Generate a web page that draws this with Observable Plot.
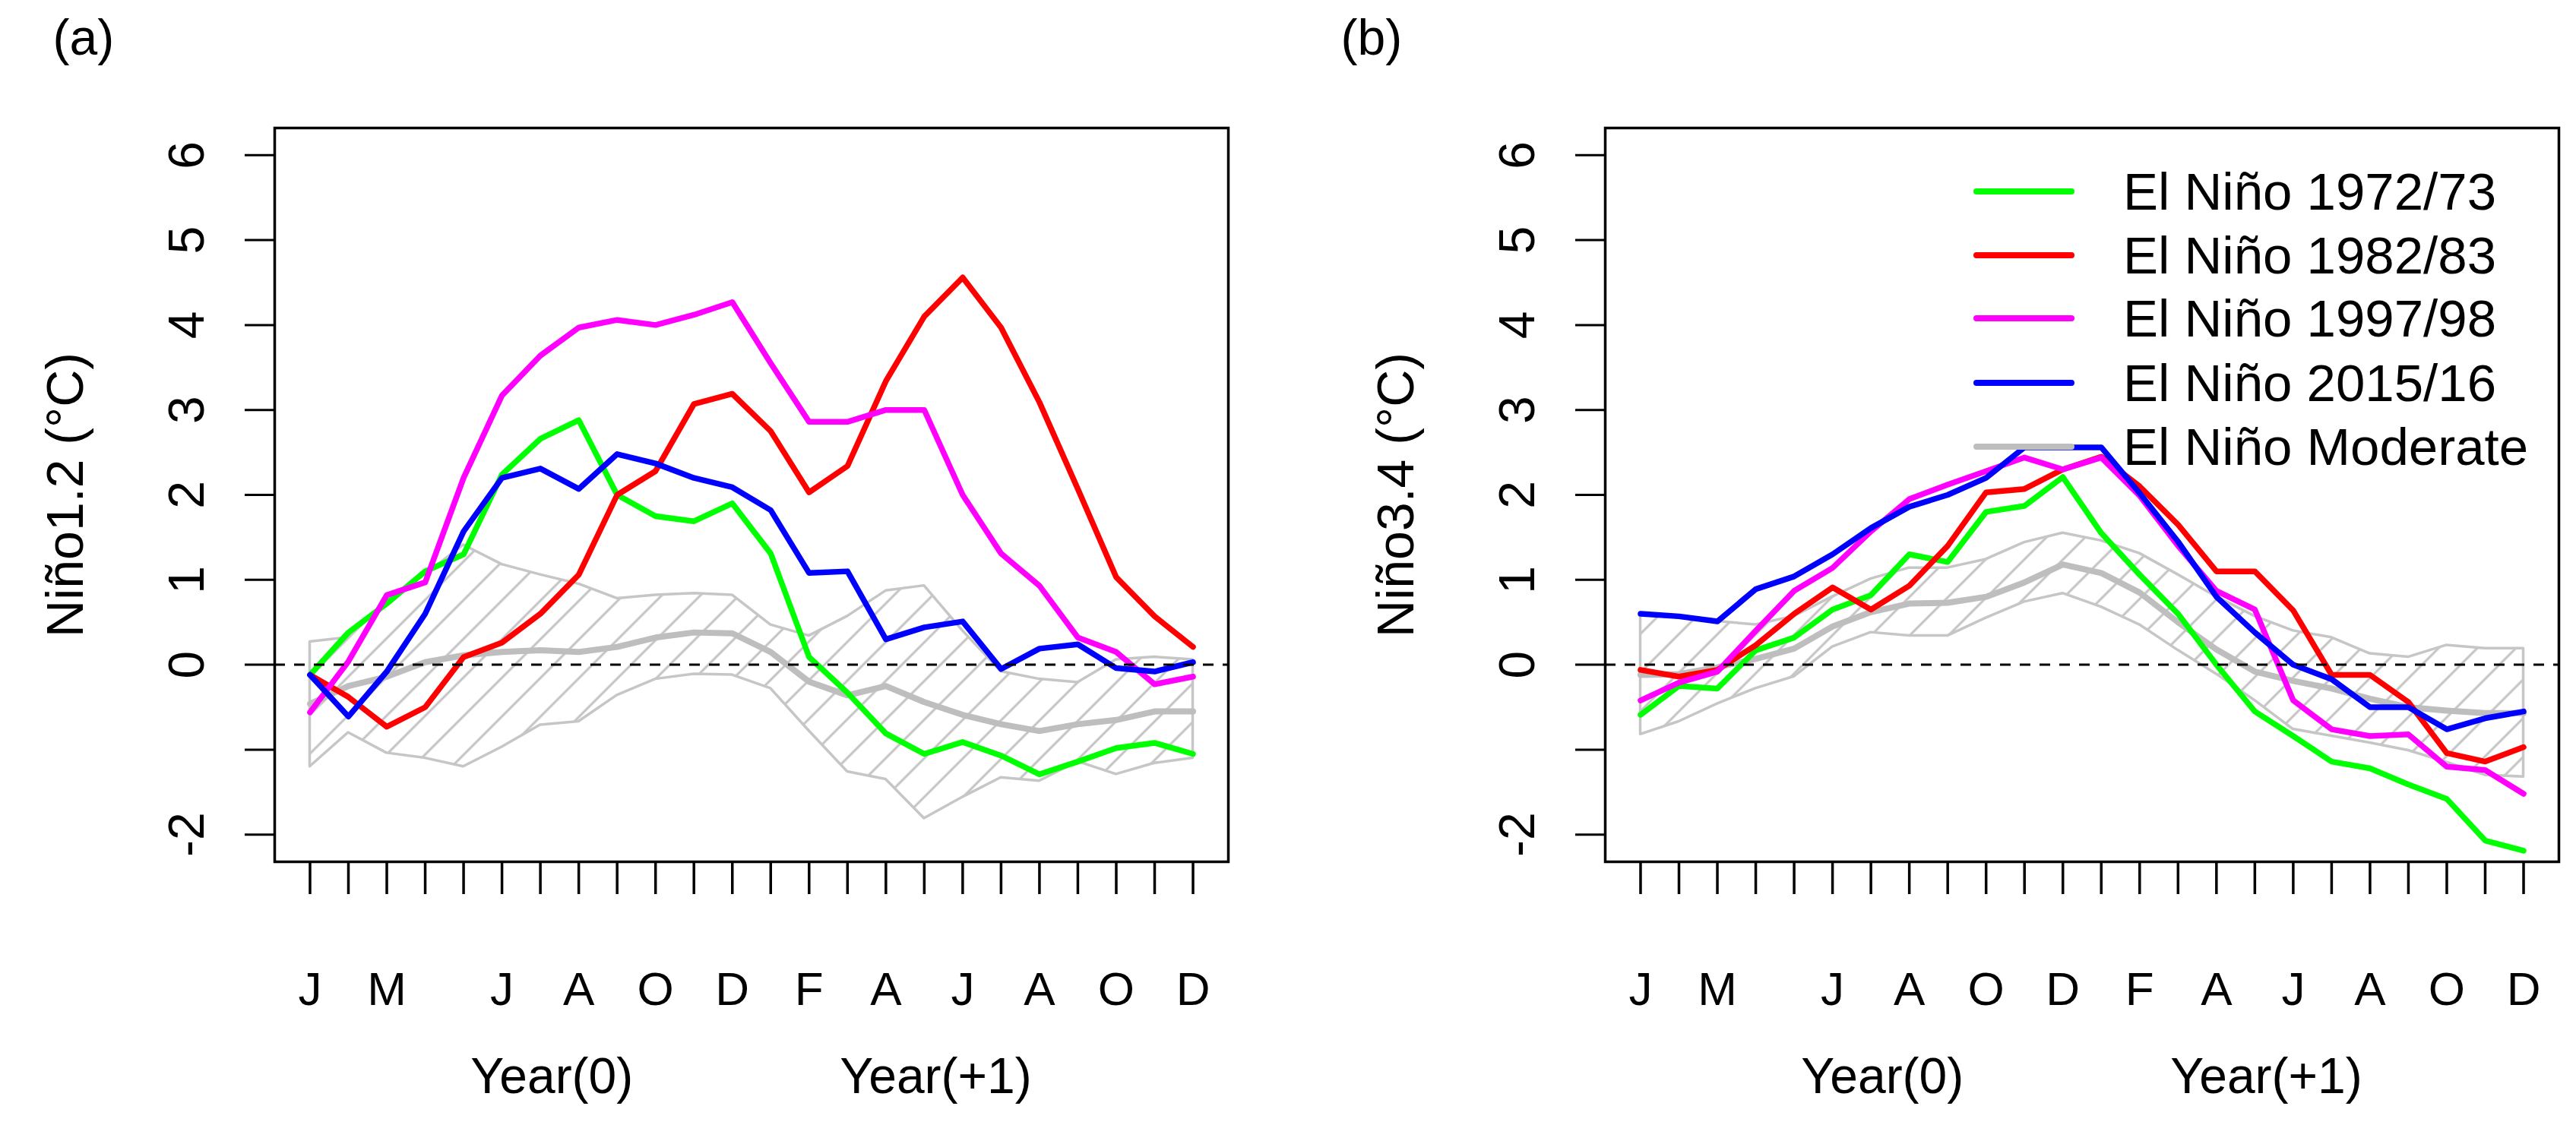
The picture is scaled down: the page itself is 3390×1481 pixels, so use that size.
<!DOCTYPE html>
<html><head><meta charset="utf-8">
<script src="https://cdn.jsdelivr.net/npm/d3@7"></script>
<script src="https://cdn.jsdelivr.net/npm/@observablehq/plot@0.6"></script>
<style>
body{margin:0;background:#fff;}
#wrap{position:relative;width:3390px;height:1481px;display:flex;font-family:"Liberation Sans",Arial,sans-serif;background:#fff;}
.leg-line{position:absolute;height:8px;width:133px;border-radius:4px;}
.leg-text{position:absolute;font-size:69px;line-height:1;white-space:nowrap;color:#000;}
</style></head><body><div id="wrap"></div>
<script>
// ---------- data ----------
const monthIndex = d3.range(1, 25);
const tickPos = [1, 3, 6, 8, 10, 12, 14, 16, 18, 20, 22, 24];
const tickLabels = ["J", "M", "J", "A", "O", "D", "F", "A", "J", "A", "O", "D"];
const yTicks = [-2, -1, 0, 1, 2, 3, 4, 5, 6];
const yTickLabels = ["-2", "", "0", "1", "2", "3", "4", "5", "6"];
const yearLabels = ["Year(0)", "Year(+1)"];
const yearPos = [7.3, 17.3];
const seriesNames = ["El Niño 1972/73", "El Niño 1982/83", "El Niño 1997/98", "El Niño 2015/16", "El Niño Moderate"];
const seriesColors = ["#00ff00", "#ff0000", "#ff00ff", "#0000ff", "#bebebe"];

// panel (a) Niño1.2
const a_1972 = [-0.12,0.38,0.72,1.10,1.30,2.24,2.66,2.88,2.00,1.75,1.69,1.90,1.31,0.09,-0.33,-0.81,-1.05,-0.91,-1.07,-1.29,-1.14,-0.98,-0.92,-1.05];
const a_1982 = [-0.12,-0.38,-0.73,-0.50,0.09,0.26,0.60,1.06,2.00,2.28,3.07,3.19,2.75,2.03,2.34,3.34,4.10,4.56,3.97,3.09,2.07,1.03,0.57,0.21];
const a_1997 = [-0.56,0.04,0.82,0.97,2.20,3.17,3.64,3.97,4.06,4.00,4.12,4.27,3.55,2.86,2.86,3.00,3.00,2.00,1.31,0.93,0.32,0.15,-0.23,-0.14];
const a_2015 = [-0.12,-0.61,-0.08,0.60,1.57,2.20,2.31,2.07,2.48,2.37,2.20,2.09,1.82,1.08,1.10,0.30,0.44,0.51,-0.05,0.19,0.24,-0.04,-0.08,0.03];
const a_mod  = [-0.46,-0.25,-0.14,0.03,0.11,0.15,0.17,0.15,0.21,0.32,0.38,0.37,0.15,-0.20,-0.36,-0.25,-0.44,-0.59,-0.70,-0.78,-0.70,-0.65,-0.55,-0.55];
const a_hi   = [0.27,0.32,0.76,1.06,1.41,1.18,1.06,0.95,0.78,0.82,0.84,0.82,0.47,0.34,0.57,0.87,0.93,0.40,-0.08,-0.17,-0.21,0.06,0.09,0.06];
const a_lo   = [-1.20,-0.80,-1.04,-1.10,-1.20,-0.97,-0.71,-0.67,-0.36,-0.17,-0.11,-0.12,-0.28,-0.78,-1.26,-1.35,-1.81,-1.56,-1.33,-1.37,-1.14,-1.29,-1.16,-1.10];

// panel (b) Niño3.4
const b_1972 = [-0.59,-0.25,-0.28,0.17,0.32,0.65,0.82,1.30,1.21,1.80,1.87,2.21,1.55,1.06,0.60,0.00,-0.55,-0.84,-1.14,-1.22,-1.41,-1.58,-2.07,-2.19];
const b_1982 = [-0.06,-0.14,-0.06,0.23,0.60,0.91,0.65,0.93,1.40,2.03,2.07,2.30,2.45,2.10,1.65,1.10,1.10,0.64,-0.12,-0.12,-0.44,-1.04,-1.14,-0.97];
const b_1997 = [-0.42,-0.21,-0.08,0.40,0.87,1.14,1.57,1.95,2.12,2.28,2.44,2.30,2.44,1.99,1.40,0.87,0.65,-0.42,-0.76,-0.84,-0.82,-1.20,-1.24,-1.52];
const b_2015 = [0.60,0.57,0.51,0.89,1.04,1.30,1.61,1.86,2.00,2.20,2.56,2.56,2.56,2.02,1.45,0.80,0.38,0.00,-0.17,-0.50,-0.50,-0.76,-0.63,-0.55];
const b_mod  = [-0.12,-0.11,-0.03,0.07,0.19,0.45,0.62,0.72,0.73,0.80,0.97,1.18,1.08,0.85,0.50,0.18,-0.08,-0.19,-0.28,-0.40,-0.50,-0.54,-0.57,-0.57];
const b_hi   = [0.60,0.55,0.51,0.47,0.57,0.80,1.01,1.14,1.14,1.24,1.44,1.55,1.46,1.31,1.06,0.80,0.57,0.40,0.32,0.13,0.09,0.23,0.19,0.19];
const b_lo   = [-0.82,-0.67,-0.46,-0.28,-0.14,0.21,0.38,0.34,0.34,0.55,0.74,0.84,0.68,0.47,0.17,-0.11,-0.42,-0.76,-0.84,-0.92,-1.01,-1.15,-1.30,-1.32];

// ---------- drawing ----------
function panel({label, yTitle, series, mod, hi, lo, marginLeft, marginRight, hatchId}) {
  const band = monthIndex.map((m, i) => ({m, hi: hi[i], lo: lo[i]}));
  const line = (vals, color, w) => Plot.line(monthIndex, {
    x: d => d, y: (d, i) => vals[i], stroke: color, strokeWidth: w,
    strokeLinejoin: "round", strokeLinecap: "round"
  });
  const svg = Plot.plot({
    width: 1695, height: 1481,
    marginLeft, marginRight, marginTop: 168, marginBottom: 347,
    style: {fontFamily: "'Liberation Sans', Arial, sans-serif", background: "white", color: "black"},
    x: {domain: [0.08, 24.92], axis: null, label: null},
    y: {domain: [-2.32, 6.32], axis: null, label: null},
    marks: [
      Plot.areaY(band, {x: "m", y1: "lo", y2: "hi", fill: `url(#${hatchId})`, stroke: "#c6c6c6", strokeWidth: 3.5}),
      line(mod, seriesColors[4], 8),
      ...series.map((s, k) => line(s, seriesColors[k], 7.5)),
      Plot.ruleY([0], {stroke: "black", strokeWidth: 3, strokeDasharray: "14,12"}),
      Plot.frame({stroke: "black", strokeWidth: 3.5}),
      Plot.axisY({ticks: yTicks, tickSize: 39, strokeWidth: 3, tickFormat: () => "", label: null}),
      Plot.axisX({ticks: monthIndex, tickSize: 43, strokeWidth: 3.5, tickFormat: () => "", label: null}),
      Plot.text(yTicks, {y: d => d, text: (d, i) => yTickLabels[i], frameAnchor: "left", dx: -94,
        rotate: -90, textAnchor: "middle", lineAnchor: "bottom", fontSize: 66, fill: "black"}),
      Plot.text(tickPos, {x: d => d, text: (d, i) => tickLabels[i], frameAnchor: "bottom", dy: 188,
        lineAnchor: "bottom", textAnchor: "middle", fontSize: 62, fill: "black"}),
      Plot.text(yearPos, {x: d => d, text: (d, i) => yearLabels[i], frameAnchor: "bottom", dy: 304,
        lineAnchor: "bottom", textAnchor: "middle", fontSize: 66, fill: "black"}),
      Plot.text([yTitle], {text: d => d, frameAnchor: "left", dx: -253, rotate: -90,
        textAnchor: "middle", lineAnchor: "bottom", fontSize: 68, fill: "black"}),
      Plot.text([label], {text: d => d, frameAnchor: "top-left", dx: 69 - marginLeft, dy: -97,
        textAnchor: "start", lineAnchor: "bottom", fontSize: 66, fill: "black"})
    ]
  });
  const ns = "http://www.w3.org/2000/svg";
  const defs = document.createElementNS(ns, "defs");
  defs.innerHTML = `<pattern id="${hatchId}" patternUnits="userSpaceOnUse" width="36" height="36" patternTransform="rotate(45)"><line x1="18" y1="-4" x2="18" y2="40" stroke="#c2c2c2" stroke-width="3"/></pattern>`;
  svg.insertBefore(defs, svg.firstChild);
  return svg;
}

const wrap = document.getElementById("wrap");
wrap.appendChild(panel({label: "(a)", yTitle: "Niño1.2 (°C)", series: [a_1972, a_1982, a_1997, a_2015],
  mod: a_mod, hi: a_hi, lo: a_lo, marginLeft: 361, marginRight: 79, hatchId: "hatchA"}));
wrap.appendChild(panel({label: "(b)", yTitle: "Niño3.4 (°C)", series: [b_1972, b_1982, b_1997, b_2015],
  mod: b_mod, hi: b_hi, lo: b_lo, marginLeft: 417, marginRight: 23, hatchId: "hatchB"}));

// legend (panel b, drawn over the plot like R's legend with bty="n")
const legRows = [252, 336, 419, 504, 588];
seriesNames.forEach((name, i) => {
  const ln = document.createElement("div");
  ln.className = "leg-line";
  ln.style.left = "2597px"; ln.style.top = (legRows[i] - 4) + "px";
  ln.style.background = seriesColors[i];
  wrap.appendChild(ln);
  const tx = document.createElement("div");
  tx.className = "leg-text";
  tx.style.left = "2794px"; tx.style.top = (legRows[i] - 34) + "px";
  tx.textContent = name;
  wrap.appendChild(tx);
});
</script></body></html>
